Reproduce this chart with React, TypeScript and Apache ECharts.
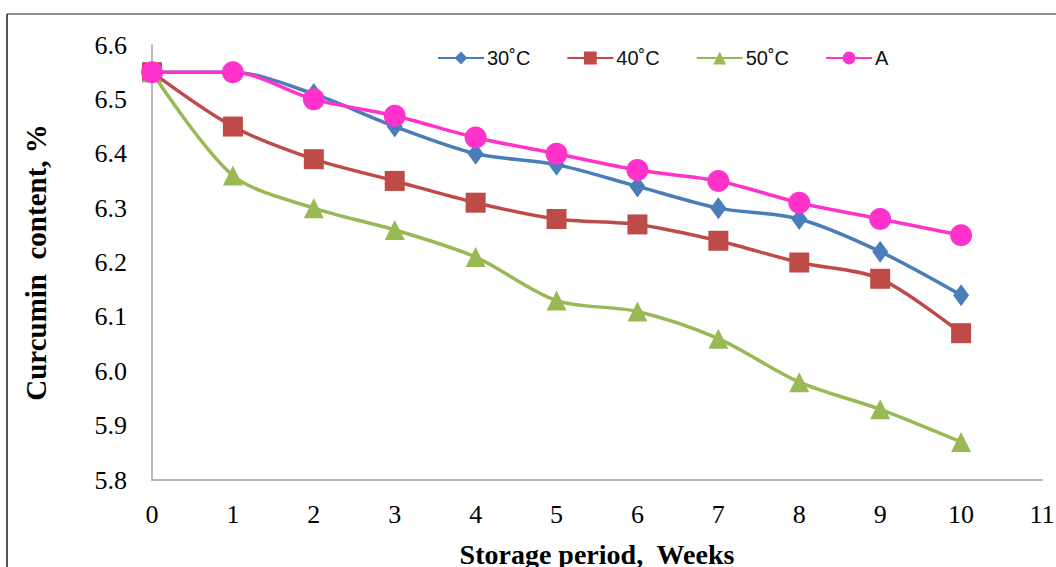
import React, { useEffect, useRef } from "react";
import * as echarts from "echarts";

const weeks = [0, 1, 2, 3, 4, 5, 6, 7, 8, 9, 10];
const s30 = [6.55, 6.55, 6.51, 6.45, 6.40, 6.38, 6.34, 6.30, 6.28, 6.22, 6.14];
const s40 = [6.55, 6.45, 6.39, 6.35, 6.31, 6.28, 6.27, 6.24, 6.20, 6.17, 6.07];
const s50 = [6.55, 6.36, 6.30, 6.26, 6.21, 6.13, 6.11, 6.06, 5.98, 5.93, 5.87];
const sA = [6.55, 6.55, 6.50, 6.47, 6.43, 6.40, 6.37, 6.35, 6.31, 6.28, 6.25];
const seriesNames = ["30˚C", "40˚C", "50˚C", "A"];

export default function App() {
  const ref = useRef<HTMLDivElement>(null);
  useEffect(() => {
    if (!ref.current) return;
    document.body.style.margin = "0";
    const chart = echarts.init(ref.current, null, { renderer: "svg", width: 1056, height: 567 });
    const mk = (name: string, vals: number[], color: string, symbol: string, size: any) => ({
      name,
      type: "line",
      data: weeks.map((w, i) => [w, vals[i]]),
      smooth: 0.3,
      symbol,
      symbolSize: size,
      lineStyle: { color, width: 3.5 },
      itemStyle: { color },
      z: 3,
    });
    chart.setOption({
      animation: false,
      backgroundColor: "#fff",
      graphic: [
        { type: "line", shape: { x1: 7, y1: 14, x2: 1056, y2: 14 }, style: { stroke: "#6b6b6b", lineWidth: 1.5 } },
        { type: "line", shape: { x1: 7, y1: 14, x2: 7, y2: 567 }, style: { stroke: "#1a1a1a", lineWidth: 1.5 } },
      ],
      legend: {
        left: 432,
        top: 43,
        itemWidth: 46,
        itemHeight: 16,
        itemGap: 36,
        textStyle: { fontFamily: "Liberation Sans", fontSize: 20, color: "#111", padding: [0, 0, 0, -2] },
        data: seriesNames,
      },
      grid: { left: 152, right: 14, top: 45, bottom: 87, outerBoundsMode: "none", containLabel: false },
      xAxis: {
        type: "value",
        min: 0,
        max: 11,
        interval: 1,
        name: "Storage period,  Weeks",
        nameLocation: "middle",
        nameGap: 60,
        nameMoveOverlap: false,
        nameTextStyle: { fontFamily: "Liberation Serif", fontWeight: "bold", fontSize: 28, color: "#000" },
        axisLine: { lineStyle: { color: "#a0a0a0", width: 1.5 } },
        axisTick: { show: false },
        splitLine: { show: false },
        axisLabel: { fontFamily: "Liberation Serif", fontSize: 26, color: "#000", margin: 21 },
      },
      yAxis: {
        type: "value",
        min: 5.8,
        max: 6.6,
        interval: 0.1,
        name: "Curcumin  content, %",
        nameLocation: "middle",
        nameGap: 102,
        nameMoveOverlap: false,
        nameTextStyle: { fontFamily: "Liberation Serif", fontWeight: "bold", fontSize: 29, color: "#000" },
        axisLine: { show: true, lineStyle: { color: "#a0a0a0", width: 1.5 } },
        axisTick: { show: false },
        splitLine: { show: false },
        axisLabel: {
          fontFamily: "Liberation Serif",
          fontSize: 26,
          color: "#000",
          margin: 25,
          formatter: (v: number) => v.toFixed(1),
        },
      },
      series: [
        mk(seriesNames[0], s30, "#4A7EBB", "diamond", [16, 22]),
        mk(seriesNames[1], s40, "#BE4B48", "rect", 20),
        mk(seriesNames[2], s50, "#98B954", "triangle", 20),
        mk(seriesNames[3], sA, "#FF33CC", "circle", 22),
      ],
    });
    return () => chart.dispose();
  }, []);
  return <div ref={ref} style={{ width: 1056, height: 567 }} />;
}
